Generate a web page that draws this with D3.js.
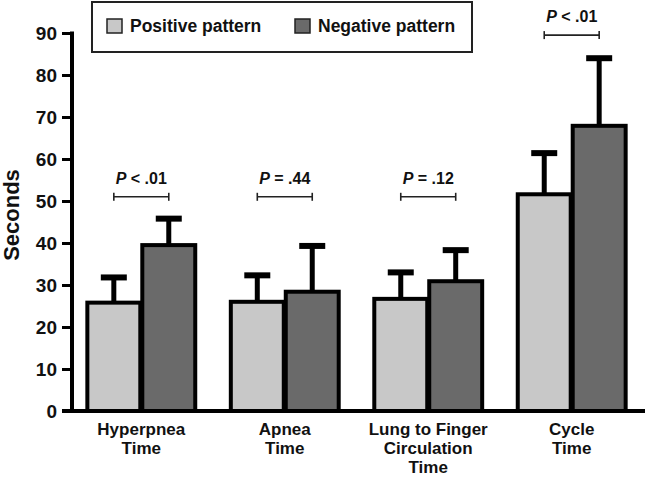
<!DOCTYPE html>
<html><head><meta charset="utf-8">
<script src="https://cdn.jsdelivr.net/npm/d3@7"></script>
<style>
body{margin:0;background:#fff;}
text{font-family:"Liberation Sans",Arial,sans-serif;font-weight:bold;fill:#111;}
</style></head>
<body><svg id="c" width="645" height="478"></svg>
<script>
const categories = [["Hyperpnea","Time"],["Apnea","Time"],["Lung to Finger","Circulation","Time"],["Cycle","Time"]];
const seriesNames = ["Positive pattern","Negative pattern"];
const positiveValues = [25.8, 26.0, 26.7, 51.6];
const negativeValues = [39.5, 28.4, 30.9, 67.9];
const positiveSD = [6.0, 6.3, 6.3, 9.8];
const negativeSD = [6.3, 10.9, 7.4, 16.1];
const pLabels = ["< .01", "= .44", "= .12", "< .01"];
const pBracketLevel = [51, 51, 51, 89.5];
const yTicks = [0,10,20,30,40,50,60,70,80,90];
const colors = ["#c8c8c8","#6a6a6a"];

const svg = d3.select("#c");
const y = d3.scaleLinear().domain([0,90]).range([411,33]);
const x0 = d3.scaleBand().domain(d3.range(categories.length)).range([72,641]).paddingInner(0.234).paddingOuter(0.1);
const x1 = d3.scaleBand().domain([0,1]).range([0,x0.bandwidth()]);

const data = categories.map((c,i)=>({i, vals:[positiveValues[i],negativeValues[i]], sd:[positiveSD[i],negativeSD[i]]}));

// error bars (behind bars)
const g = svg.append("g");
data.forEach(d=>{
  d.vals.forEach((v,k)=>{
    const cx = x0(d.i)+x1(k)+x1.bandwidth()/2;
    g.append("line").attr("x1",cx).attr("x2",cx).attr("y1",y(v)).attr("y2",y(v+d.sd[k]))
      .attr("stroke","#000").attr("stroke-width",5);
    g.append("line").attr("x1",cx-13).attr("x2",cx+13).attr("y1",y(v+d.sd[k])).attr("y2",y(v+d.sd[k]))
      .attr("stroke","#000").attr("stroke-width",6);
  });
});
// bars
data.forEach(d=>{
  d.vals.forEach((v,k)=>{
    g.append("rect").attr("x",x0(d.i)+x1(k)+1).attr("y",y(v)).attr("width",x1.bandwidth()-2).attr("height",y(0)-y(v))
      .attr("fill",colors[k]).attr("stroke","#000").attr("stroke-width",4);
  });
});

// y axis
const yAxis = d3.axisLeft(y).tickValues(yTicks).tickSize(10).tickSizeOuter(0).tickPadding(5);
const ga = svg.append("g").attr("transform","translate(72,0)").call(yAxis);
ga.select(".domain").remove();
ga.selectAll(".tick line").attr("stroke","#000").attr("stroke-width",3);
ga.selectAll(".tick text").style("font-size","19px").style("font-family","Liberation Sans, Arial, sans-serif").style("font-weight","bold").attr("fill","#111").attr("dy","0.36em");
svg.append("line").attr("x1",72).attr("x2",72).attr("y1",y(90)-1.5).attr("y2",y(0)+2).attr("stroke","#000").attr("stroke-width",4);
svg.append("line").attr("x1",62).attr("x2",645).attr("y1",y(0)).attr("y2",y(0)).attr("stroke","#000").attr("stroke-width",4);

// y title
svg.append("text").attr("transform","translate(19,215) rotate(-90)").attr("text-anchor","middle")
  .style("font-size","22px").text("Seconds");

// category labels
categories.forEach((lines,i)=>{
  const t = svg.append("text").attr("text-anchor","middle").style("font-size","17px");
  lines.forEach((l,j)=>{
    t.append("tspan").attr("x",x0(i)+x0.bandwidth()/2).attr("y",435+j*19).text(l);
  });
});

// p-value brackets
data.forEach(d=>{
  const xa = x0(d.i)+x1(0)+x1.bandwidth()/2, xb = x0(d.i)+x1(1)+x1.bandwidth()/2;
  const by = y(pBracketLevel[d.i]);
  svg.append("line").attr("x1",xa).attr("x2",xb).attr("y1",by).attr("y2",by).attr("stroke","#222").attr("stroke-width",1.6);
  [xa,xb].forEach(xx=>svg.append("line").attr("x1",xx).attr("x2",xx).attr("y1",by-4).attr("y2",by+4).attr("stroke","#222").attr("stroke-width",1.6));
  const t = svg.append("text").attr("x",(xa+xb)/2).attr("y",by-13).attr("text-anchor","middle").style("font-size","16px");
  t.append("tspan").style("font-style","italic").text("P");
  t.append("tspan").text(" "+pLabels[d.i]);
});

// legend
const lg = svg.append("g");
lg.append("rect").attr("x",92).attr("y",2).attr("width",380).attr("height",50).attr("fill","#fff").attr("stroke","#222").attr("stroke-width",2);
const legX = [107, 295];
seriesNames.forEach((n,k)=>{
  lg.append("rect").attr("x",legX[k]).attr("y",19).attr("width",15).attr("height",14).attr("fill",colors[k]).attr("stroke","#222").attr("stroke-width",1.5);
  lg.append("text").attr("x",legX[k]+23).attr("y",32).style("font-size","17.5px").text(n);
});
</script></body></html>
